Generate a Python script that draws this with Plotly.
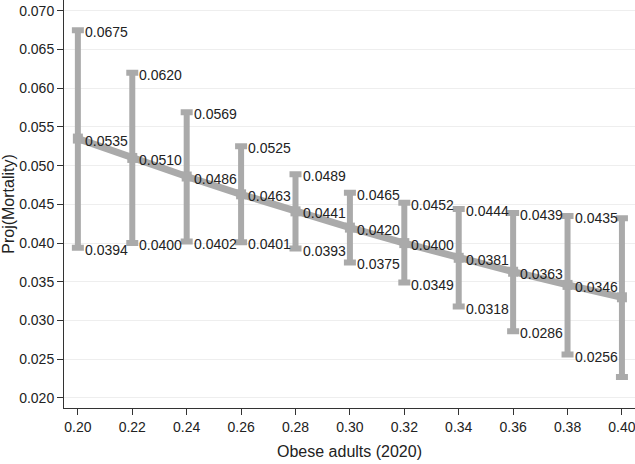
import plotly.graph_objects as go

obese = [0.20, 0.22, 0.24, 0.26, 0.28, 0.30, 0.32, 0.34, 0.36, 0.38, 0.40]
proj = [0.0535, 0.0510, 0.0486, 0.0463, 0.0441, 0.0420, 0.0400, 0.0381, 0.0363, 0.0346, 0.0330]
upper = [0.0675, 0.0620, 0.0569, 0.0525, 0.0489, 0.0465, 0.0452, 0.0444, 0.0439, 0.0435, 0.0432]
lower = [0.0394, 0.0400, 0.0402, 0.0401, 0.0393, 0.0375, 0.0349, 0.0318, 0.0286, 0.0256, 0.0227]

# the last point has no value labels in the original
n_lab = 10

gray = "#aaaaaa"
font = dict(family="Liberation Sans, Arial, sans-serif", size=14, color="#222222")

fig = go.Figure()

fig.add_trace(go.Scatter(
    x=obese, y=proj, mode="lines+markers",
    line=dict(color=gray, width=7),
    marker=dict(color=gray, size=10, symbol="square"),
    error_y=dict(type="data", symmetric=False,
                 array=[u - p for u, p in zip(upper, proj)],
                 arrayminus=[p - l for p, l in zip(proj, lower)],
                 color=gray, thickness=6, width=6),
    showlegend=False, hoverinfo="skip",
))

# value labels to the right of each cap / point
for vals in (upper, proj, lower):
    for x, v in zip(obese[:n_lab], vals[:n_lab]):
        fig.add_annotation(x=x, y=v, text=f"{v:.4f}", showarrow=False,
                           xanchor="left", yanchor="middle",
                           xshift=5, yshift=-2, font=font)

fig.update_layout(
    width=635, height=464,
    margin=dict(l=64, r=0, t=0, b=56),
    paper_bgcolor="white", plot_bgcolor="white",
    font=font,
)
fig.update_xaxes(
    range=[0.1949, 0.4048], automargin=False, ticklabeloverflow="allow",
    tickvals=obese, tickformat=".2f", tickfont=dict(size=14),
    ticks="outside", ticklen=6, tickcolor="#333333",
    showline=True, linecolor="#333333", linewidth=1,
    showgrid=False, zeroline=False,
    title=dict(text="Obese adults (2020)", font=dict(size=16), standoff=12),
)
fig.update_yaxes(
    range=[0.0187, 0.0714], automargin=False,
    tickvals=[0.020, 0.025, 0.030, 0.035, 0.040, 0.045, 0.050, 0.055, 0.060, 0.065, 0.070],
    tickformat=".3f", tickfont=dict(size=14),
    ticks="outside", ticklen=6, tickcolor="#333333",
    showline=True, linecolor="#333333", linewidth=1,
    showgrid=True, gridcolor="#eeeeee", gridwidth=1, zeroline=False,
    title=dict(text="Proj(Mortality)", font=dict(size=16), standoff=6),
)

fig.write_html("out.html", config={"displayModeBar": False},
               post_script="document.body.style.margin='0';")
